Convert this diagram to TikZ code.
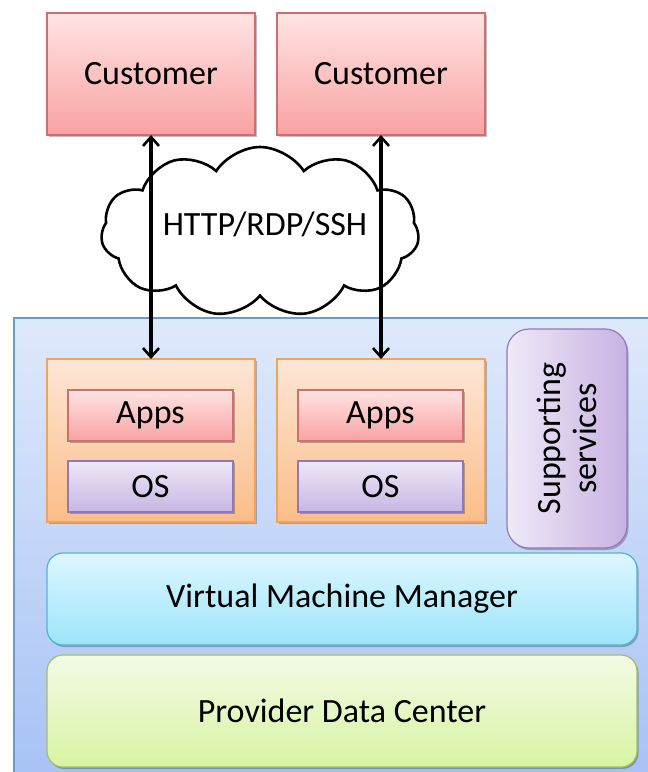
\documentclass[tikz,border=0pt]{standalone}
\usepackage{fontspec}
\setmainfont{Carlito}
\usetikzlibrary{shapes.symbols,arrows.meta,shadows}
\definecolor{cusT}{HTML}{FFE4E4}\definecolor{cusB}{HTML}{F9A2A2}\definecolor{cusD}{HTML}{CF6E6E}
\definecolor{vmT}{HTML}{FDE6D6}\definecolor{vmB}{HTML}{FBBD88}\definecolor{vmD}{HTML}{F6A15A}
\definecolor{osT}{HTML}{EEE8F7}\definecolor{osB}{HTML}{C7B6E4}\definecolor{osD}{HTML}{8F78BC}
\definecolor{ssL}{HTML}{EFE9F8}\definecolor{ssR}{HTML}{C7B2E2}\definecolor{ssD}{HTML}{9279B8}
\definecolor{vmmT}{HTML}{DDF6FE}\definecolor{vmmB}{HTML}{9DE5FB}\definecolor{vmmD}{HTML}{56B3CE}
\definecolor{pdcT}{HTML}{F3FAE6}\definecolor{pdcB}{HTML}{D8F4A2}\definecolor{pdcD}{HTML}{A2C163}
\definecolor{bluT}{HTML}{DFE9FB}\definecolor{bluB}{HTML}{A6C1F5}\definecolor{bluD}{HTML}{6A9AD3}
\tikzset{
  base/.style={inner sep=0pt, outer sep=0pt, line width=1.2pt, anchor=north west, font=\fontsize{34}{37}\selectfont,
    drop shadow={shadow xshift=1.5pt, shadow yshift=-2pt, opacity=0.25, fill=black}},
  cusbox/.style={base, draw=cusD, top color=cusT, bottom color=cusB},
  vmbox/.style={base, draw=vmD, top color=vmT, bottom color=vmB},
  osbox/.style={base, draw=osD, top color=osT, bottom color=osB},
  ssbox/.style={base, draw=ssD, left color=ssL, right color=ssR, rounded corners=22pt},
  vmmbox/.style={base, draw=vmmD, top color=vmmT, bottom color=vmmB, rounded corners=16pt},
  pdcbox/.style={base, draw=pdcD, top color=pdcT, bottom color=pdcB, rounded corners=16pt},
  link/.style={line width=3.2pt, {Straight Barb[length=9pt,width=16pt,line width=2.6pt]}-{Straight Barb[length=9pt,width=16pt,line width=2.6pt]}},
  lbl/.style={font=\fontsize{34}{36}\selectfont, inner sep=0pt}
}
\begin{document}
\begin{tikzpicture}[x=1pt,y=-1pt]
\useasboundingbox (0,0) rectangle (648,772);
% cloud
\node[cloud, cloud puffs=11, cloud puff arc=115, aspect=1.9, draw, line width=2.6pt, fill=white,
      minimum width=318pt, minimum height=170pt, inner sep=0pt] (cloud) at (260,232) {};
\node[lbl] (proto) at (265,224) {HTTP/RDP/SSH};
% provider background
\path[draw=bluD, line width=1.2pt, top color=bluT, bottom color=bluB] (14,318) rectangle (660,790);
% customers
\node[cusbox, minimum width=208pt, minimum height=122pt] (c1) at (47,13) {Customer};
\node[cusbox, minimum width=208pt, minimum height=122pt] (c2) at (277,13) {Customer};
% VMs
\node[vmbox, minimum width=208pt, minimum height=163pt] (vm1) at (47,359) {};
\node[vmbox, minimum width=208pt, minimum height=163pt] (vm2) at (277,359) {};
\node[cusbox, minimum width=165pt, minimum height=51pt] (a1) at (68,390) {Apps};
\node[osbox, minimum width=165pt, minimum height=51pt] (o1) at (68,461) {OS};
\node[cusbox, minimum width=165pt, minimum height=51pt] (a2) at (298,390) {Apps};
\node[osbox, minimum width=165pt, minimum height=51pt] (o2) at (298,461) {OS};
% supporting services
\node[ssbox, minimum width=120pt, minimum height=219pt] (ss) at (507,329) {};
\node[lbl, rotate=90, align=center] (sst) at (ss.center) {Supporting\\services};
% layers
\node[vmmbox, minimum width=590pt, minimum height=92pt] (vmm) at (47,553) {Virtual Machine Manager};
\node[pdcbox, minimum width=590pt, minimum height=112pt] (pdc) at (47,655) {Provider Data Center};
% connectors
\draw[link] (c1.south) -- (vm1.north);
\draw[link] (c2.south) -- (vm2.north);
\end{tikzpicture}
\end{document}
